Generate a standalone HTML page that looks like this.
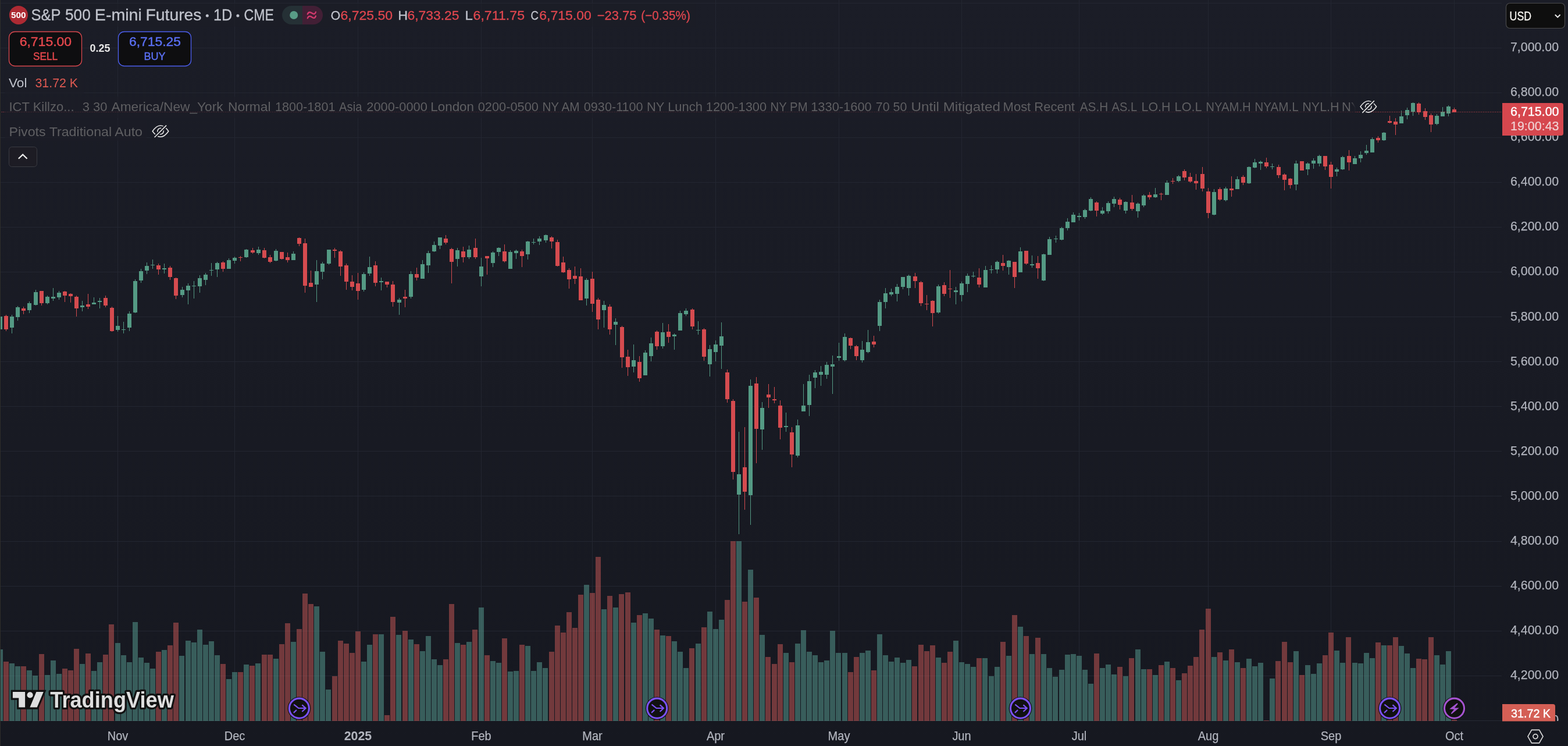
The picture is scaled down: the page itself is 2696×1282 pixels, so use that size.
<!DOCTYPE html>
<html><head><meta charset="utf-8">
<style>
html,body{margin:0;padding:0;}
body{width:2696px;height:1282px;background:#181a23;overflow:hidden;position:relative;}
#chart{position:absolute;left:0;top:0;}
</style></head><body>
<svg id="chart" width="2696" height="1282" viewBox="0 0 2696 1282" font-family='"Liberation Sans", Arial, sans-serif'>
<defs><linearGradient id="bgg" x1="0" y1="0" x2="0" y2="1"><stop offset="0" stop-color="#1b1d27"/><stop offset="1" stop-color="#161820"/></linearGradient><linearGradient id="fade" gradientUnits="userSpaceOnUse" x1="2321" y1="0" x2="2331" y2="0"><stop offset="0" stop-color="#fff"/><stop offset="1" stop-color="#000"/></linearGradient><mask id="ictm"><rect x="0" y="160" width="2331" height="40" fill="url(#fade)"/></mask><clipPath id="pax"><rect x="2583" y="0" width="113" height="1239"/></clipPath></defs>
<rect x="0" y="0" width="2696" height="1282" fill="url(#bgg)"/>
<rect x="0" y="5" width="2582" height="1" fill="#232631"/>
<rect x="0" y="82" width="2582" height="1" fill="#232631"/>
<rect x="0" y="159" width="2582" height="1" fill="#232631"/>
<rect x="0" y="236" width="2582" height="1" fill="#232631"/>
<rect x="0" y="313" width="2582" height="1" fill="#232631"/>
<rect x="0" y="390" width="2582" height="1" fill="#232631"/>
<rect x="0" y="467" width="2582" height="1" fill="#232631"/>
<rect x="0" y="544" width="2582" height="1" fill="#232631"/>
<rect x="0" y="621" width="2582" height="1" fill="#232631"/>
<rect x="0" y="698" width="2582" height="1" fill="#232631"/>
<rect x="0" y="775" width="2582" height="1" fill="#232631"/>
<rect x="0" y="852" width="2582" height="1" fill="#232631"/>
<rect x="0" y="930" width="2582" height="1" fill="#232631"/>
<rect x="0" y="1007" width="2582" height="1" fill="#232631"/>
<rect x="0" y="1084" width="2582" height="1" fill="#232631"/>
<rect x="0" y="1161" width="2582" height="1" fill="#232631"/>
<rect x="0" y="1238" width="2582" height="1" fill="#232631"/>
<rect x="202" y="0" width="1" height="1239" fill="#232631"/>
<rect x="403" y="0" width="1" height="1239" fill="#232631"/>
<rect x="615" y="0" width="1" height="1239" fill="#232631"/>
<rect x="827" y="0" width="1" height="1239" fill="#232631"/>
<rect x="1018" y="0" width="1" height="1239" fill="#232631"/>
<rect x="1230" y="0" width="1" height="1239" fill="#232631"/>
<rect x="1442" y="0" width="1" height="1239" fill="#232631"/>
<rect x="1653" y="0" width="1" height="1239" fill="#232631"/>
<rect x="1855" y="0" width="1" height="1239" fill="#232631"/>
<rect x="2077" y="0" width="1" height="1239" fill="#232631"/>
<rect x="2288" y="0" width="1" height="1239" fill="#232631"/>
<rect x="2500" y="0" width="1" height="1239" fill="#232631"/>
<rect x="0" y="1238" width="2583" height="1" fill="#272a35"/>
<rect x="-4" y="1116" width="9" height="123" fill="rgba(90,161,150,0.5)"/>
<rect x="6" y="1137" width="9" height="102" fill="rgba(206,89,88,0.5)"/>
<rect x="16" y="1140" width="9" height="99" fill="rgba(90,161,150,0.5)"/>
<rect x="26" y="1145" width="9" height="94" fill="rgba(90,161,150,0.5)"/>
<rect x="36" y="1145" width="9" height="94" fill="rgba(206,89,88,0.5)"/>
<rect x="46" y="1152" width="9" height="87" fill="rgba(90,161,150,0.5)"/>
<rect x="56" y="1161" width="9" height="78" fill="rgba(90,161,150,0.5)"/>
<rect x="67" y="1124" width="9" height="115" fill="rgba(206,89,88,0.5)"/>
<rect x="77" y="1160" width="9" height="79" fill="rgba(90,161,150,0.5)"/>
<rect x="87" y="1135" width="9" height="104" fill="rgba(90,161,150,0.5)"/>
<rect x="97" y="1158" width="9" height="81" fill="rgba(90,161,150,0.5)"/>
<rect x="107" y="1149" width="9" height="90" fill="rgba(206,89,88,0.5)"/>
<rect x="117" y="1152" width="9" height="87" fill="rgba(206,89,88,0.5)"/>
<rect x="127" y="1115" width="9" height="124" fill="rgba(206,89,88,0.5)"/>
<rect x="137" y="1141" width="9" height="98" fill="rgba(90,161,150,0.5)"/>
<rect x="147" y="1123" width="9" height="116" fill="rgba(206,89,88,0.5)"/>
<rect x="157" y="1153" width="9" height="86" fill="rgba(90,161,150,0.5)"/>
<rect x="167" y="1138" width="9" height="101" fill="rgba(90,161,150,0.5)"/>
<rect x="177" y="1125" width="9" height="114" fill="rgba(206,89,88,0.5)"/>
<rect x="187" y="1073" width="9" height="166" fill="rgba(206,89,88,0.5)"/>
<rect x="198" y="1105" width="9" height="134" fill="rgba(90,161,150,0.5)"/>
<rect x="208" y="1126" width="9" height="113" fill="rgba(90,161,150,0.5)"/>
<rect x="218" y="1138" width="9" height="101" fill="rgba(90,161,150,0.5)"/>
<rect x="228" y="1069" width="9" height="170" fill="rgba(90,161,150,0.5)"/>
<rect x="238" y="1130" width="9" height="109" fill="rgba(90,161,150,0.5)"/>
<rect x="248" y="1139" width="9" height="100" fill="rgba(90,161,150,0.5)"/>
<rect x="258" y="1149" width="9" height="90" fill="rgba(90,161,150,0.5)"/>
<rect x="268" y="1120" width="9" height="119" fill="rgba(206,89,88,0.5)"/>
<rect x="278" y="1117" width="9" height="122" fill="rgba(90,161,150,0.5)"/>
<rect x="288" y="1109" width="9" height="130" fill="rgba(206,89,88,0.5)"/>
<rect x="298" y="1070" width="9" height="169" fill="rgba(206,89,88,0.5)"/>
<rect x="308" y="1127" width="9" height="112" fill="rgba(90,161,150,0.5)"/>
<rect x="319" y="1101" width="9" height="138" fill="rgba(90,161,150,0.5)"/>
<rect x="329" y="1104" width="9" height="135" fill="rgba(90,161,150,0.5)"/>
<rect x="339" y="1082" width="9" height="157" fill="rgba(90,161,150,0.5)"/>
<rect x="349" y="1108" width="9" height="131" fill="rgba(90,161,150,0.5)"/>
<rect x="359" y="1102" width="9" height="137" fill="rgba(90,161,150,0.5)"/>
<rect x="369" y="1126" width="9" height="113" fill="rgba(90,161,150,0.5)"/>
<rect x="379" y="1141" width="9" height="98" fill="rgba(206,89,88,0.5)"/>
<rect x="389" y="1167" width="9" height="72" fill="rgba(90,161,150,0.5)"/>
<rect x="399" y="1155" width="9" height="84" fill="rgba(90,161,150,0.5)"/>
<rect x="409" y="1155" width="9" height="84" fill="rgba(206,89,88,0.5)"/>
<rect x="419" y="1142" width="9" height="97" fill="rgba(90,161,150,0.5)"/>
<rect x="429" y="1144" width="9" height="95" fill="rgba(206,89,88,0.5)"/>
<rect x="439" y="1140" width="9" height="99" fill="rgba(90,161,150,0.5)"/>
<rect x="450" y="1125" width="9" height="114" fill="rgba(206,89,88,0.5)"/>
<rect x="460" y="1125" width="9" height="114" fill="rgba(206,89,88,0.5)"/>
<rect x="470" y="1132" width="9" height="107" fill="rgba(90,161,150,0.5)"/>
<rect x="480" y="1107" width="9" height="132" fill="rgba(206,89,88,0.5)"/>
<rect x="490" y="1071" width="9" height="168" fill="rgba(206,89,88,0.5)"/>
<rect x="500" y="1103" width="9" height="136" fill="rgba(90,161,150,0.5)"/>
<rect x="510" y="1081" width="9" height="158" fill="rgba(206,89,88,0.5)"/>
<rect x="520" y="1020" width="9" height="219" fill="rgba(206,89,88,0.5)"/>
<rect x="530" y="1038" width="9" height="201" fill="rgba(206,89,88,0.5)"/>
<rect x="540" y="1042" width="9" height="197" fill="rgba(90,161,150,0.5)"/>
<rect x="550" y="1120" width="9" height="119" fill="rgba(90,161,150,0.5)"/>
<rect x="560" y="1185" width="9" height="54" fill="rgba(90,161,150,0.5)"/>
<rect x="571" y="1162" width="9" height="77" fill="rgba(206,89,88,0.5)"/>
<rect x="581" y="1101" width="9" height="138" fill="rgba(206,89,88,0.5)"/>
<rect x="591" y="1106" width="9" height="133" fill="rgba(206,89,88,0.5)"/>
<rect x="601" y="1122" width="9" height="117" fill="rgba(206,89,88,0.5)"/>
<rect x="611" y="1085" width="9" height="154" fill="rgba(206,89,88,0.5)"/>
<rect x="621" y="1137" width="9" height="102" fill="rgba(90,161,150,0.5)"/>
<rect x="631" y="1108" width="9" height="131" fill="rgba(90,161,150,0.5)"/>
<rect x="641" y="1090" width="9" height="149" fill="rgba(206,89,88,0.5)"/>
<rect x="651" y="1090" width="9" height="149" fill="rgba(90,161,150,0.5)"/>
<rect x="661" y="1229" width="9" height="10" fill="rgba(206,89,88,0.5)"/>
<rect x="671" y="1060" width="9" height="179" fill="rgba(206,89,88,0.5)"/>
<rect x="681" y="1091" width="9" height="148" fill="rgba(90,161,150,0.5)"/>
<rect x="692" y="1084" width="9" height="155" fill="rgba(206,89,88,0.5)"/>
<rect x="702" y="1099" width="9" height="140" fill="rgba(90,161,150,0.5)"/>
<rect x="712" y="1107" width="9" height="132" fill="rgba(206,89,88,0.5)"/>
<rect x="722" y="1119" width="9" height="120" fill="rgba(90,161,150,0.5)"/>
<rect x="732" y="1093" width="9" height="146" fill="rgba(90,161,150,0.5)"/>
<rect x="742" y="1133" width="9" height="106" fill="rgba(90,161,150,0.5)"/>
<rect x="752" y="1143" width="9" height="96" fill="rgba(90,161,150,0.5)"/>
<rect x="762" y="1133" width="9" height="106" fill="rgba(206,89,88,0.5)"/>
<rect x="772" y="1038" width="9" height="201" fill="rgba(206,89,88,0.5)"/>
<rect x="782" y="1105" width="9" height="134" fill="rgba(90,161,150,0.5)"/>
<rect x="792" y="1108" width="9" height="131" fill="rgba(206,89,88,0.5)"/>
<rect x="802" y="1103" width="9" height="136" fill="rgba(90,161,150,0.5)"/>
<rect x="812" y="1082" width="9" height="157" fill="rgba(206,89,88,0.5)"/>
<rect x="823" y="1044" width="9" height="195" fill="rgba(90,161,150,0.5)"/>
<rect x="833" y="1126" width="9" height="113" fill="rgba(206,89,88,0.5)"/>
<rect x="843" y="1136" width="9" height="103" fill="rgba(90,161,150,0.5)"/>
<rect x="853" y="1139" width="9" height="100" fill="rgba(90,161,150,0.5)"/>
<rect x="863" y="1097" width="9" height="142" fill="rgba(206,89,88,0.5)"/>
<rect x="873" y="1154" width="9" height="85" fill="rgba(90,161,150,0.5)"/>
<rect x="883" y="1153" width="9" height="86" fill="rgba(90,161,150,0.5)"/>
<rect x="893" y="1108" width="9" height="131" fill="rgba(206,89,88,0.5)"/>
<rect x="903" y="1110" width="9" height="129" fill="rgba(90,161,150,0.5)"/>
<rect x="913" y="1153" width="9" height="86" fill="rgba(90,161,150,0.5)"/>
<rect x="923" y="1138" width="9" height="101" fill="rgba(90,161,150,0.5)"/>
<rect x="933" y="1148" width="9" height="91" fill="rgba(90,161,150,0.5)"/>
<rect x="944" y="1120" width="9" height="119" fill="rgba(206,89,88,0.5)"/>
<rect x="954" y="1075" width="9" height="164" fill="rgba(206,89,88,0.5)"/>
<rect x="964" y="1087" width="9" height="152" fill="rgba(206,89,88,0.5)"/>
<rect x="974" y="1052" width="9" height="187" fill="rgba(206,89,88,0.5)"/>
<rect x="984" y="1079" width="9" height="160" fill="rgba(206,89,88,0.5)"/>
<rect x="994" y="1022" width="9" height="217" fill="rgba(206,89,88,0.5)"/>
<rect x="1004" y="1005" width="9" height="234" fill="rgba(90,161,150,0.5)"/>
<rect x="1014" y="1019" width="9" height="220" fill="rgba(206,89,88,0.5)"/>
<rect x="1024" y="957" width="9" height="282" fill="rgba(206,89,88,0.5)"/>
<rect x="1034" y="1047" width="9" height="192" fill="rgba(90,161,150,0.5)"/>
<rect x="1044" y="1024" width="9" height="215" fill="rgba(206,89,88,0.5)"/>
<rect x="1054" y="1044" width="9" height="195" fill="rgba(90,161,150,0.5)"/>
<rect x="1064" y="1021" width="9" height="218" fill="rgba(206,89,88,0.5)"/>
<rect x="1075" y="1018" width="9" height="221" fill="rgba(206,89,88,0.5)"/>
<rect x="1085" y="1070" width="9" height="169" fill="rgba(90,161,150,0.5)"/>
<rect x="1095" y="1057" width="9" height="182" fill="rgba(206,89,88,0.5)"/>
<rect x="1105" y="1054" width="9" height="185" fill="rgba(90,161,150,0.5)"/>
<rect x="1115" y="1063" width="9" height="176" fill="rgba(90,161,150,0.5)"/>
<rect x="1125" y="1082" width="9" height="157" fill="rgba(206,89,88,0.5)"/>
<rect x="1135" y="1092" width="9" height="147" fill="rgba(90,161,150,0.5)"/>
<rect x="1145" y="1093" width="9" height="146" fill="rgba(206,89,88,0.5)"/>
<rect x="1155" y="1102" width="9" height="137" fill="rgba(90,161,150,0.5)"/>
<rect x="1165" y="1120" width="9" height="119" fill="rgba(90,161,150,0.5)"/>
<rect x="1175" y="1148" width="9" height="91" fill="rgba(90,161,150,0.5)"/>
<rect x="1185" y="1114" width="9" height="125" fill="rgba(206,89,88,0.5)"/>
<rect x="1196" y="1106" width="9" height="133" fill="rgba(90,161,150,0.5)"/>
<rect x="1206" y="1078" width="9" height="161" fill="rgba(206,89,88,0.5)"/>
<rect x="1216" y="1051" width="9" height="188" fill="rgba(90,161,150,0.5)"/>
<rect x="1226" y="1081" width="9" height="158" fill="rgba(90,161,150,0.5)"/>
<rect x="1236" y="1065" width="9" height="174" fill="rgba(90,161,150,0.5)"/>
<rect x="1246" y="1031" width="9" height="208" fill="rgba(206,89,88,0.5)"/>
<rect x="1256" y="930" width="9" height="309" fill="rgba(206,89,88,0.5)"/>
<rect x="1266" y="930" width="9" height="309" fill="rgba(90,161,150,0.5)"/>
<rect x="1276" y="1034" width="9" height="205" fill="rgba(206,89,88,0.5)"/>
<rect x="1286" y="979" width="9" height="260" fill="rgba(90,161,150,0.5)"/>
<rect x="1296" y="1027" width="9" height="212" fill="rgba(206,89,88,0.5)"/>
<rect x="1306" y="1091" width="9" height="148" fill="rgba(90,161,150,0.5)"/>
<rect x="1316" y="1129" width="9" height="110" fill="rgba(206,89,88,0.5)"/>
<rect x="1327" y="1141" width="9" height="98" fill="rgba(206,89,88,0.5)"/>
<rect x="1337" y="1107" width="9" height="132" fill="rgba(206,89,88,0.5)"/>
<rect x="1347" y="1122" width="9" height="117" fill="rgba(90,161,150,0.5)"/>
<rect x="1357" y="1138" width="9" height="101" fill="rgba(206,89,88,0.5)"/>
<rect x="1367" y="1106" width="9" height="133" fill="rgba(90,161,150,0.5)"/>
<rect x="1377" y="1083" width="9" height="156" fill="rgba(90,161,150,0.5)"/>
<rect x="1387" y="1120" width="9" height="119" fill="rgba(90,161,150,0.5)"/>
<rect x="1397" y="1126" width="9" height="113" fill="rgba(90,161,150,0.5)"/>
<rect x="1407" y="1138" width="9" height="101" fill="rgba(90,161,150,0.5)"/>
<rect x="1417" y="1135" width="9" height="104" fill="rgba(90,161,150,0.5)"/>
<rect x="1427" y="1084" width="9" height="155" fill="rgba(90,161,150,0.5)"/>
<rect x="1437" y="1122" width="9" height="117" fill="rgba(90,161,150,0.5)"/>
<rect x="1448" y="1122" width="9" height="117" fill="rgba(90,161,150,0.5)"/>
<rect x="1458" y="1155" width="9" height="84" fill="rgba(206,89,88,0.5)"/>
<rect x="1468" y="1129" width="9" height="110" fill="rgba(206,89,88,0.5)"/>
<rect x="1478" y="1122" width="9" height="117" fill="rgba(90,161,150,0.5)"/>
<rect x="1488" y="1118" width="9" height="121" fill="rgba(90,161,150,0.5)"/>
<rect x="1498" y="1152" width="9" height="87" fill="rgba(206,89,88,0.5)"/>
<rect x="1508" y="1090" width="9" height="149" fill="rgba(90,161,150,0.5)"/>
<rect x="1518" y="1126" width="9" height="113" fill="rgba(90,161,150,0.5)"/>
<rect x="1528" y="1137" width="9" height="102" fill="rgba(90,161,150,0.5)"/>
<rect x="1538" y="1130" width="9" height="109" fill="rgba(90,161,150,0.5)"/>
<rect x="1548" y="1139" width="9" height="100" fill="rgba(90,161,150,0.5)"/>
<rect x="1558" y="1134" width="9" height="105" fill="rgba(90,161,150,0.5)"/>
<rect x="1568" y="1145" width="9" height="94" fill="rgba(206,89,88,0.5)"/>
<rect x="1579" y="1108" width="9" height="131" fill="rgba(206,89,88,0.5)"/>
<rect x="1589" y="1119" width="9" height="120" fill="rgba(206,89,88,0.5)"/>
<rect x="1599" y="1109" width="9" height="130" fill="rgba(206,89,88,0.5)"/>
<rect x="1609" y="1130" width="9" height="109" fill="rgba(90,161,150,0.5)"/>
<rect x="1619" y="1139" width="9" height="100" fill="rgba(206,89,88,0.5)"/>
<rect x="1629" y="1120" width="9" height="119" fill="rgba(206,89,88,0.5)"/>
<rect x="1639" y="1101" width="9" height="138" fill="rgba(90,161,150,0.5)"/>
<rect x="1649" y="1138" width="9" height="101" fill="rgba(90,161,150,0.5)"/>
<rect x="1659" y="1141" width="9" height="98" fill="rgba(90,161,150,0.5)"/>
<rect x="1669" y="1146" width="9" height="93" fill="rgba(90,161,150,0.5)"/>
<rect x="1679" y="1131" width="9" height="108" fill="rgba(206,89,88,0.5)"/>
<rect x="1689" y="1131" width="9" height="108" fill="rgba(90,161,150,0.5)"/>
<rect x="1700" y="1162" width="9" height="77" fill="rgba(90,161,150,0.5)"/>
<rect x="1710" y="1146" width="9" height="93" fill="rgba(90,161,150,0.5)"/>
<rect x="1720" y="1103" width="9" height="136" fill="rgba(206,89,88,0.5)"/>
<rect x="1730" y="1127" width="9" height="112" fill="rgba(90,161,150,0.5)"/>
<rect x="1740" y="1057" width="9" height="182" fill="rgba(206,89,88,0.5)"/>
<rect x="1750" y="1077" width="9" height="162" fill="rgba(90,161,150,0.5)"/>
<rect x="1760" y="1093" width="9" height="146" fill="rgba(206,89,88,0.5)"/>
<rect x="1770" y="1124" width="9" height="115" fill="rgba(90,161,150,0.5)"/>
<rect x="1780" y="1096" width="9" height="143" fill="rgba(206,89,88,0.5)"/>
<rect x="1790" y="1124" width="9" height="115" fill="rgba(90,161,150,0.5)"/>
<rect x="1800" y="1148" width="9" height="91" fill="rgba(90,161,150,0.5)"/>
<rect x="1810" y="1163" width="9" height="76" fill="rgba(90,161,150,0.5)"/>
<rect x="1821" y="1151" width="9" height="88" fill="rgba(90,161,150,0.5)"/>
<rect x="1831" y="1125" width="9" height="114" fill="rgba(90,161,150,0.5)"/>
<rect x="1841" y="1124" width="9" height="115" fill="rgba(90,161,150,0.5)"/>
<rect x="1851" y="1127" width="9" height="112" fill="rgba(90,161,150,0.5)"/>
<rect x="1861" y="1151" width="9" height="88" fill="rgba(90,161,150,0.5)"/>
<rect x="1871" y="1175" width="9" height="64" fill="rgba(90,161,150,0.5)"/>
<rect x="1881" y="1123" width="9" height="116" fill="rgba(206,89,88,0.5)"/>
<rect x="1891" y="1148" width="9" height="91" fill="rgba(90,161,150,0.5)"/>
<rect x="1901" y="1142" width="9" height="97" fill="rgba(90,161,150,0.5)"/>
<rect x="1911" y="1159" width="9" height="80" fill="rgba(90,161,150,0.5)"/>
<rect x="1921" y="1146" width="9" height="93" fill="rgba(206,89,88,0.5)"/>
<rect x="1931" y="1162" width="9" height="77" fill="rgba(90,161,150,0.5)"/>
<rect x="1941" y="1131" width="9" height="108" fill="rgba(206,89,88,0.5)"/>
<rect x="1952" y="1116" width="9" height="123" fill="rgba(90,161,150,0.5)"/>
<rect x="1962" y="1150" width="9" height="89" fill="rgba(90,161,150,0.5)"/>
<rect x="1972" y="1150" width="9" height="89" fill="rgba(206,89,88,0.5)"/>
<rect x="1982" y="1160" width="9" height="79" fill="rgba(90,161,150,0.5)"/>
<rect x="1992" y="1143" width="9" height="96" fill="rgba(206,89,88,0.5)"/>
<rect x="2002" y="1137" width="9" height="102" fill="rgba(90,161,150,0.5)"/>
<rect x="2012" y="1148" width="9" height="91" fill="rgba(206,89,88,0.5)"/>
<rect x="2022" y="1169" width="9" height="70" fill="rgba(90,161,150,0.5)"/>
<rect x="2032" y="1157" width="9" height="82" fill="rgba(206,89,88,0.5)"/>
<rect x="2042" y="1144" width="9" height="95" fill="rgba(206,89,88,0.5)"/>
<rect x="2052" y="1129" width="9" height="110" fill="rgba(206,89,88,0.5)"/>
<rect x="2062" y="1082" width="9" height="157" fill="rgba(206,89,88,0.5)"/>
<rect x="2073" y="1046" width="9" height="193" fill="rgba(206,89,88,0.5)"/>
<rect x="2083" y="1129" width="9" height="110" fill="rgba(90,161,150,0.5)"/>
<rect x="2093" y="1121" width="9" height="118" fill="rgba(206,89,88,0.5)"/>
<rect x="2103" y="1135" width="9" height="104" fill="rgba(90,161,150,0.5)"/>
<rect x="2113" y="1116" width="9" height="123" fill="rgba(206,89,88,0.5)"/>
<rect x="2123" y="1138" width="9" height="101" fill="rgba(90,161,150,0.5)"/>
<rect x="2133" y="1148" width="9" height="91" fill="rgba(206,89,88,0.5)"/>
<rect x="2143" y="1132" width="9" height="107" fill="rgba(90,161,150,0.5)"/>
<rect x="2153" y="1145" width="9" height="94" fill="rgba(90,161,150,0.5)"/>
<rect x="2163" y="1139" width="9" height="100" fill="rgba(90,161,150,0.5)"/>
<rect x="2173" y="1238" width="9" height="1" fill="rgba(206,89,88,0.5)"/>
<rect x="2183" y="1166" width="9" height="73" fill="rgba(90,161,150,0.5)"/>
<rect x="2193" y="1136" width="9" height="103" fill="rgba(206,89,88,0.5)"/>
<rect x="2204" y="1103" width="9" height="136" fill="rgba(206,89,88,0.5)"/>
<rect x="2214" y="1138" width="9" height="101" fill="rgba(206,89,88,0.5)"/>
<rect x="2224" y="1119" width="9" height="120" fill="rgba(90,161,150,0.5)"/>
<rect x="2234" y="1160" width="9" height="79" fill="rgba(206,89,88,0.5)"/>
<rect x="2244" y="1143" width="9" height="96" fill="rgba(90,161,150,0.5)"/>
<rect x="2254" y="1158" width="9" height="81" fill="rgba(90,161,150,0.5)"/>
<rect x="2264" y="1140" width="9" height="99" fill="rgba(90,161,150,0.5)"/>
<rect x="2274" y="1126" width="9" height="113" fill="rgba(206,89,88,0.5)"/>
<rect x="2284" y="1087" width="9" height="152" fill="rgba(206,89,88,0.5)"/>
<rect x="2294" y="1118" width="9" height="121" fill="rgba(90,161,150,0.5)"/>
<rect x="2304" y="1139" width="9" height="100" fill="rgba(90,161,150,0.5)"/>
<rect x="2314" y="1095" width="9" height="144" fill="rgba(206,89,88,0.5)"/>
<rect x="2325" y="1139" width="9" height="100" fill="rgba(90,161,150,0.5)"/>
<rect x="2335" y="1140" width="9" height="99" fill="rgba(90,161,150,0.5)"/>
<rect x="2345" y="1122" width="9" height="117" fill="rgba(90,161,150,0.5)"/>
<rect x="2355" y="1131" width="9" height="108" fill="rgba(90,161,150,0.5)"/>
<rect x="2365" y="1104" width="9" height="135" fill="rgba(206,89,88,0.5)"/>
<rect x="2375" y="1109" width="9" height="130" fill="rgba(90,161,150,0.5)"/>
<rect x="2385" y="1109" width="9" height="130" fill="rgba(206,89,88,0.5)"/>
<rect x="2395" y="1095" width="9" height="144" fill="rgba(206,89,88,0.5)"/>
<rect x="2405" y="1110" width="9" height="129" fill="rgba(90,161,150,0.5)"/>
<rect x="2415" y="1123" width="9" height="116" fill="rgba(90,161,150,0.5)"/>
<rect x="2425" y="1148" width="9" height="91" fill="rgba(90,161,150,0.5)"/>
<rect x="2435" y="1132" width="9" height="107" fill="rgba(206,89,88,0.5)"/>
<rect x="2445" y="1133" width="9" height="106" fill="rgba(206,89,88,0.5)"/>
<rect x="2456" y="1095" width="9" height="144" fill="rgba(206,89,88,0.5)"/>
<rect x="2466" y="1126" width="9" height="113" fill="rgba(90,161,150,0.5)"/>
<rect x="2476" y="1142" width="9" height="97" fill="rgba(90,161,150,0.5)"/>
<rect x="2486" y="1119" width="9" height="120" fill="rgba(90,161,150,0.5)"/>
<rect x="2496" y="1237" width="9" height="2" fill="rgba(206,89,88,0.5)"/>
<rect x="0" y="542" width="1" height="25" fill="#549a84"/>
<rect x="-3" y="544" width="7" height="22" fill="#549a84"/>
<rect x="10" y="541" width="1" height="28" fill="#d54b4f"/>
<rect x="7" y="543" width="7" height="23" fill="#d54b4f"/>
<rect x="20" y="541" width="1" height="32" fill="#549a84"/>
<rect x="17" y="544" width="7" height="19" fill="#549a84"/>
<rect x="30" y="526" width="1" height="25" fill="#549a84"/>
<rect x="27" y="528" width="7" height="17" fill="#549a84"/>
<rect x="40" y="527" width="1" height="13" fill="#d54b4f"/>
<rect x="37" y="530" width="7" height="4" fill="#d54b4f"/>
<rect x="50" y="518" width="1" height="20" fill="#549a84"/>
<rect x="47" y="521" width="7" height="12" fill="#549a84"/>
<rect x="61" y="498" width="1" height="27" fill="#549a84"/>
<rect x="58" y="502" width="7" height="22" fill="#549a84"/>
<rect x="71" y="500" width="1" height="25" fill="#d54b4f"/>
<rect x="68" y="500" width="7" height="21" fill="#d54b4f"/>
<rect x="81" y="508" width="1" height="15" fill="#549a84"/>
<rect x="78" y="510" width="7" height="11" fill="#549a84"/>
<rect x="91" y="495" width="1" height="22" fill="#549a84"/>
<rect x="88" y="510" width="7" height="3" fill="#549a84"/>
<rect x="101" y="500" width="1" height="15" fill="#549a84"/>
<rect x="98" y="503" width="7" height="8" fill="#549a84"/>
<rect x="111" y="500" width="1" height="19" fill="#d54b4f"/>
<rect x="108" y="501" width="7" height="7" fill="#d54b4f"/>
<rect x="121" y="504" width="1" height="16" fill="#d54b4f"/>
<rect x="118" y="505" width="7" height="4" fill="#d54b4f"/>
<rect x="131" y="508" width="1" height="36" fill="#d54b4f"/>
<rect x="128" y="510" width="7" height="20" fill="#d54b4f"/>
<rect x="141" y="517" width="1" height="18" fill="#549a84"/>
<rect x="138" y="525" width="7" height="3" fill="#549a84"/>
<rect x="151" y="505" width="1" height="26" fill="#d54b4f"/>
<rect x="148" y="523" width="7" height="4" fill="#d54b4f"/>
<rect x="161" y="511" width="1" height="12" fill="#549a84"/>
<rect x="158" y="520" width="7" height="3" fill="#549a84"/>
<rect x="171" y="512" width="1" height="18" fill="#549a84"/>
<rect x="168" y="517" width="7" height="2" fill="#549a84"/>
<rect x="181" y="508" width="1" height="20" fill="#d54b4f"/>
<rect x="178" y="512" width="7" height="13" fill="#d54b4f"/>
<rect x="192" y="527" width="1" height="43" fill="#d54b4f"/>
<rect x="189" y="529" width="7" height="40" fill="#d54b4f"/>
<rect x="202" y="543" width="1" height="27" fill="#549a84"/>
<rect x="199" y="560" width="7" height="7" fill="#549a84"/>
<rect x="212" y="553" width="1" height="20" fill="#549a84"/>
<rect x="209" y="566" width="7" height="1" fill="#549a84"/>
<rect x="222" y="535" width="1" height="34" fill="#549a84"/>
<rect x="219" y="539" width="7" height="24" fill="#549a84"/>
<rect x="232" y="480" width="1" height="58" fill="#549a84"/>
<rect x="229" y="483" width="7" height="54" fill="#549a84"/>
<rect x="242" y="462" width="1" height="24" fill="#549a84"/>
<rect x="239" y="466" width="7" height="16" fill="#549a84"/>
<rect x="252" y="451" width="1" height="20" fill="#549a84"/>
<rect x="249" y="457" width="7" height="8" fill="#549a84"/>
<rect x="262" y="446" width="1" height="16" fill="#549a84"/>
<rect x="259" y="455" width="7" height="1" fill="#549a84"/>
<rect x="272" y="453" width="1" height="19" fill="#d54b4f"/>
<rect x="269" y="456" width="7" height="7" fill="#d54b4f"/>
<rect x="282" y="453" width="1" height="17" fill="#549a84"/>
<rect x="279" y="461" width="7" height="2" fill="#549a84"/>
<rect x="292" y="457" width="1" height="24" fill="#d54b4f"/>
<rect x="289" y="460" width="7" height="16" fill="#d54b4f"/>
<rect x="302" y="477" width="1" height="37" fill="#d54b4f"/>
<rect x="299" y="478" width="7" height="30" fill="#d54b4f"/>
<rect x="313" y="493" width="1" height="18" fill="#549a84"/>
<rect x="310" y="498" width="7" height="9" fill="#549a84"/>
<rect x="323" y="487" width="1" height="36" fill="#549a84"/>
<rect x="320" y="491" width="7" height="8" fill="#549a84"/>
<rect x="333" y="483" width="1" height="30" fill="#549a84"/>
<rect x="330" y="491" width="7" height="1" fill="#549a84"/>
<rect x="343" y="473" width="1" height="30" fill="#549a84"/>
<rect x="340" y="478" width="7" height="14" fill="#549a84"/>
<rect x="353" y="469" width="1" height="21" fill="#549a84"/>
<rect x="350" y="472" width="7" height="9" fill="#549a84"/>
<rect x="363" y="452" width="1" height="22" fill="#549a84"/>
<rect x="360" y="464" width="7" height="1" fill="#549a84"/>
<rect x="373" y="450" width="1" height="26" fill="#549a84"/>
<rect x="370" y="452" width="7" height="11" fill="#549a84"/>
<rect x="383" y="449" width="1" height="18" fill="#d54b4f"/>
<rect x="380" y="451" width="7" height="11" fill="#d54b4f"/>
<rect x="393" y="444" width="1" height="18" fill="#549a84"/>
<rect x="390" y="447" width="7" height="15" fill="#549a84"/>
<rect x="403" y="441" width="1" height="12" fill="#549a84"/>
<rect x="400" y="443" width="7" height="5" fill="#549a84"/>
<rect x="413" y="440" width="1" height="9" fill="#d54b4f"/>
<rect x="410" y="442" width="7" height="1" fill="#d54b4f"/>
<rect x="423" y="428" width="1" height="15" fill="#549a84"/>
<rect x="420" y="429" width="7" height="13" fill="#549a84"/>
<rect x="434" y="426" width="1" height="10" fill="#d54b4f"/>
<rect x="431" y="430" width="7" height="4" fill="#d54b4f"/>
<rect x="444" y="424" width="1" height="14" fill="#549a84"/>
<rect x="441" y="429" width="7" height="6" fill="#549a84"/>
<rect x="454" y="426" width="1" height="18" fill="#d54b4f"/>
<rect x="451" y="430" width="7" height="13" fill="#d54b4f"/>
<rect x="464" y="438" width="1" height="14" fill="#d54b4f"/>
<rect x="461" y="442" width="7" height="8" fill="#d54b4f"/>
<rect x="474" y="428" width="1" height="21" fill="#549a84"/>
<rect x="471" y="431" width="7" height="17" fill="#549a84"/>
<rect x="484" y="433" width="1" height="13" fill="#d54b4f"/>
<rect x="481" y="433" width="7" height="12" fill="#d54b4f"/>
<rect x="494" y="434" width="1" height="17" fill="#d54b4f"/>
<rect x="491" y="442" width="7" height="5" fill="#d54b4f"/>
<rect x="504" y="432" width="1" height="15" fill="#549a84"/>
<rect x="501" y="436" width="7" height="11" fill="#549a84"/>
<rect x="514" y="408" width="1" height="15" fill="#d54b4f"/>
<rect x="511" y="409" width="7" height="10" fill="#d54b4f"/>
<rect x="524" y="410" width="1" height="93" fill="#d54b4f"/>
<rect x="521" y="418" width="7" height="73" fill="#d54b4f"/>
<rect x="534" y="465" width="1" height="28" fill="#d54b4f"/>
<rect x="531" y="486" width="7" height="7" fill="#d54b4f"/>
<rect x="544" y="447" width="1" height="72" fill="#549a84"/>
<rect x="541" y="466" width="7" height="23" fill="#549a84"/>
<rect x="554" y="450" width="1" height="30" fill="#549a84"/>
<rect x="551" y="453" width="7" height="14" fill="#549a84"/>
<rect x="565" y="429" width="1" height="26" fill="#549a84"/>
<rect x="562" y="429" width="7" height="24" fill="#549a84"/>
<rect x="575" y="426" width="1" height="17" fill="#d54b4f"/>
<rect x="572" y="429" width="7" height="2" fill="#d54b4f"/>
<rect x="585" y="430" width="1" height="44" fill="#d54b4f"/>
<rect x="582" y="432" width="7" height="26" fill="#d54b4f"/>
<rect x="595" y="453" width="1" height="45" fill="#d54b4f"/>
<rect x="592" y="456" width="7" height="28" fill="#d54b4f"/>
<rect x="605" y="473" width="1" height="26" fill="#d54b4f"/>
<rect x="602" y="484" width="7" height="9" fill="#d54b4f"/>
<rect x="615" y="469" width="1" height="46" fill="#d54b4f"/>
<rect x="612" y="487" width="7" height="13" fill="#d54b4f"/>
<rect x="625" y="468" width="1" height="33" fill="#549a84"/>
<rect x="622" y="471" width="7" height="27" fill="#549a84"/>
<rect x="635" y="441" width="1" height="33" fill="#549a84"/>
<rect x="632" y="459" width="7" height="11" fill="#549a84"/>
<rect x="645" y="449" width="1" height="43" fill="#d54b4f"/>
<rect x="642" y="456" width="7" height="30" fill="#d54b4f"/>
<rect x="655" y="477" width="1" height="22" fill="#549a84"/>
<rect x="652" y="483" width="7" height="2" fill="#549a84"/>
<rect x="665" y="484" width="1" height="10" fill="#d54b4f"/>
<rect x="662" y="484" width="7" height="5" fill="#d54b4f"/>
<rect x="675" y="483" width="1" height="44" fill="#d54b4f"/>
<rect x="672" y="489" width="7" height="30" fill="#d54b4f"/>
<rect x="686" y="512" width="1" height="29" fill="#549a84"/>
<rect x="683" y="515" width="7" height="5" fill="#549a84"/>
<rect x="696" y="498" width="1" height="30" fill="#d54b4f"/>
<rect x="693" y="510" width="7" height="3" fill="#d54b4f"/>
<rect x="706" y="466" width="1" height="47" fill="#549a84"/>
<rect x="703" y="471" width="7" height="39" fill="#549a84"/>
<rect x="716" y="460" width="1" height="22" fill="#d54b4f"/>
<rect x="713" y="471" width="7" height="6" fill="#d54b4f"/>
<rect x="726" y="447" width="1" height="32" fill="#549a84"/>
<rect x="723" y="454" width="7" height="25" fill="#549a84"/>
<rect x="736" y="431" width="1" height="38" fill="#549a84"/>
<rect x="733" y="435" width="7" height="21" fill="#549a84"/>
<rect x="746" y="415" width="1" height="18" fill="#549a84"/>
<rect x="743" y="421" width="7" height="11" fill="#549a84"/>
<rect x="756" y="408" width="1" height="20" fill="#549a84"/>
<rect x="753" y="408" width="7" height="14" fill="#549a84"/>
<rect x="766" y="404" width="1" height="16" fill="#d54b4f"/>
<rect x="763" y="410" width="7" height="7" fill="#d54b4f"/>
<rect x="776" y="426" width="1" height="61" fill="#d54b4f"/>
<rect x="773" y="428" width="7" height="22" fill="#d54b4f"/>
<rect x="786" y="426" width="1" height="32" fill="#549a84"/>
<rect x="783" y="430" width="7" height="15" fill="#549a84"/>
<rect x="796" y="424" width="1" height="27" fill="#d54b4f"/>
<rect x="793" y="432" width="7" height="10" fill="#d54b4f"/>
<rect x="806" y="422" width="1" height="23" fill="#549a84"/>
<rect x="803" y="429" width="7" height="13" fill="#549a84"/>
<rect x="817" y="410" width="1" height="35" fill="#d54b4f"/>
<rect x="814" y="426" width="7" height="16" fill="#d54b4f"/>
<rect x="827" y="443" width="1" height="49" fill="#549a84"/>
<rect x="824" y="458" width="7" height="17" fill="#549a84"/>
<rect x="837" y="440" width="1" height="32" fill="#d54b4f"/>
<rect x="834" y="440" width="7" height="4" fill="#d54b4f"/>
<rect x="847" y="432" width="1" height="27" fill="#549a84"/>
<rect x="844" y="434" width="7" height="18" fill="#549a84"/>
<rect x="857" y="425" width="1" height="15" fill="#549a84"/>
<rect x="854" y="426" width="7" height="7" fill="#549a84"/>
<rect x="867" y="420" width="1" height="31" fill="#d54b4f"/>
<rect x="864" y="432" width="7" height="17" fill="#d54b4f"/>
<rect x="877" y="430" width="1" height="32" fill="#549a84"/>
<rect x="874" y="433" width="7" height="29" fill="#549a84"/>
<rect x="887" y="429" width="1" height="16" fill="#549a84"/>
<rect x="884" y="431" width="7" height="4" fill="#549a84"/>
<rect x="897" y="429" width="1" height="30" fill="#d54b4f"/>
<rect x="894" y="432" width="7" height="8" fill="#d54b4f"/>
<rect x="907" y="414" width="1" height="32" fill="#549a84"/>
<rect x="904" y="415" width="7" height="22" fill="#549a84"/>
<rect x="917" y="410" width="1" height="10" fill="#549a84"/>
<rect x="914" y="416" width="7" height="1" fill="#549a84"/>
<rect x="927" y="406" width="1" height="15" fill="#549a84"/>
<rect x="924" y="410" width="7" height="5" fill="#549a84"/>
<rect x="938" y="403" width="1" height="14" fill="#549a84"/>
<rect x="935" y="404" width="7" height="9" fill="#549a84"/>
<rect x="948" y="406" width="1" height="21" fill="#d54b4f"/>
<rect x="945" y="408" width="7" height="7" fill="#d54b4f"/>
<rect x="958" y="412" width="1" height="46" fill="#d54b4f"/>
<rect x="955" y="416" width="7" height="41" fill="#d54b4f"/>
<rect x="968" y="441" width="1" height="28" fill="#d54b4f"/>
<rect x="965" y="451" width="7" height="17" fill="#d54b4f"/>
<rect x="978" y="461" width="1" height="35" fill="#d54b4f"/>
<rect x="975" y="464" width="7" height="16" fill="#d54b4f"/>
<rect x="988" y="458" width="1" height="30" fill="#d54b4f"/>
<rect x="985" y="474" width="7" height="5" fill="#d54b4f"/>
<rect x="998" y="461" width="1" height="55" fill="#d54b4f"/>
<rect x="995" y="475" width="7" height="41" fill="#d54b4f"/>
<rect x="1008" y="478" width="1" height="47" fill="#549a84"/>
<rect x="1005" y="481" width="7" height="32" fill="#549a84"/>
<rect x="1018" y="467" width="1" height="69" fill="#d54b4f"/>
<rect x="1015" y="479" width="7" height="43" fill="#d54b4f"/>
<rect x="1028" y="512" width="1" height="54" fill="#d54b4f"/>
<rect x="1025" y="515" width="7" height="34" fill="#d54b4f"/>
<rect x="1038" y="517" width="1" height="46" fill="#549a84"/>
<rect x="1035" y="524" width="7" height="9" fill="#549a84"/>
<rect x="1048" y="523" width="1" height="52" fill="#d54b4f"/>
<rect x="1045" y="527" width="7" height="39" fill="#d54b4f"/>
<rect x="1058" y="547" width="1" height="46" fill="#549a84"/>
<rect x="1055" y="553" width="7" height="5" fill="#549a84"/>
<rect x="1069" y="560" width="1" height="72" fill="#d54b4f"/>
<rect x="1066" y="562" width="7" height="52" fill="#d54b4f"/>
<rect x="1079" y="601" width="1" height="45" fill="#d54b4f"/>
<rect x="1076" y="613" width="7" height="18" fill="#d54b4f"/>
<rect x="1089" y="592" width="1" height="48" fill="#549a84"/>
<rect x="1086" y="619" width="7" height="11" fill="#549a84"/>
<rect x="1099" y="612" width="1" height="44" fill="#d54b4f"/>
<rect x="1096" y="622" width="7" height="28" fill="#d54b4f"/>
<rect x="1109" y="602" width="1" height="43" fill="#549a84"/>
<rect x="1106" y="606" width="7" height="39" fill="#549a84"/>
<rect x="1119" y="580" width="1" height="41" fill="#549a84"/>
<rect x="1116" y="590" width="7" height="22" fill="#549a84"/>
<rect x="1129" y="568" width="1" height="33" fill="#d54b4f"/>
<rect x="1126" y="570" width="7" height="25" fill="#d54b4f"/>
<rect x="1139" y="555" width="1" height="44" fill="#549a84"/>
<rect x="1136" y="571" width="7" height="24" fill="#549a84"/>
<rect x="1149" y="557" width="1" height="32" fill="#d54b4f"/>
<rect x="1146" y="570" width="7" height="9" fill="#d54b4f"/>
<rect x="1159" y="573" width="1" height="28" fill="#549a84"/>
<rect x="1156" y="575" width="7" height="3" fill="#549a84"/>
<rect x="1169" y="534" width="1" height="34" fill="#549a84"/>
<rect x="1166" y="538" width="7" height="30" fill="#549a84"/>
<rect x="1179" y="530" width="1" height="13" fill="#549a84"/>
<rect x="1176" y="534" width="7" height="6" fill="#549a84"/>
<rect x="1190" y="530" width="1" height="36" fill="#d54b4f"/>
<rect x="1187" y="532" width="7" height="29" fill="#d54b4f"/>
<rect x="1200" y="552" width="1" height="23" fill="#549a84"/>
<rect x="1197" y="567" width="7" height="1" fill="#549a84"/>
<rect x="1210" y="564" width="1" height="56" fill="#d54b4f"/>
<rect x="1207" y="566" width="7" height="47" fill="#d54b4f"/>
<rect x="1220" y="593" width="1" height="54" fill="#549a84"/>
<rect x="1217" y="600" width="7" height="26" fill="#549a84"/>
<rect x="1230" y="585" width="1" height="36" fill="#549a84"/>
<rect x="1227" y="592" width="7" height="13" fill="#549a84"/>
<rect x="1240" y="554" width="1" height="80" fill="#549a84"/>
<rect x="1237" y="578" width="7" height="16" fill="#549a84"/>
<rect x="1250" y="635" width="1" height="57" fill="#d54b4f"/>
<rect x="1247" y="640" width="7" height="46" fill="#d54b4f"/>
<rect x="1260" y="686" width="1" height="138" fill="#d54b4f"/>
<rect x="1257" y="689" width="7" height="122" fill="#d54b4f"/>
<rect x="1270" y="742" width="1" height="176" fill="#549a84"/>
<rect x="1267" y="815" width="7" height="35" fill="#549a84"/>
<rect x="1280" y="734" width="1" height="142" fill="#d54b4f"/>
<rect x="1277" y="803" width="7" height="42" fill="#d54b4f"/>
<rect x="1290" y="652" width="1" height="250" fill="#549a84"/>
<rect x="1287" y="663" width="7" height="188" fill="#549a84"/>
<rect x="1300" y="648" width="1" height="148" fill="#d54b4f"/>
<rect x="1297" y="659" width="7" height="78" fill="#d54b4f"/>
<rect x="1310" y="691" width="1" height="82" fill="#549a84"/>
<rect x="1307" y="701" width="7" height="37" fill="#549a84"/>
<rect x="1321" y="660" width="1" height="41" fill="#d54b4f"/>
<rect x="1318" y="678" width="7" height="5" fill="#d54b4f"/>
<rect x="1331" y="665" width="1" height="28" fill="#d54b4f"/>
<rect x="1328" y="686" width="7" height="2" fill="#d54b4f"/>
<rect x="1341" y="688" width="1" height="67" fill="#d54b4f"/>
<rect x="1338" y="697" width="7" height="38" fill="#d54b4f"/>
<rect x="1351" y="709" width="1" height="33" fill="#549a84"/>
<rect x="1348" y="732" width="7" height="2" fill="#549a84"/>
<rect x="1361" y="734" width="1" height="69" fill="#d54b4f"/>
<rect x="1358" y="743" width="7" height="38" fill="#d54b4f"/>
<rect x="1371" y="721" width="1" height="65" fill="#549a84"/>
<rect x="1368" y="731" width="7" height="52" fill="#549a84"/>
<rect x="1381" y="660" width="1" height="47" fill="#549a84"/>
<rect x="1378" y="697" width="7" height="10" fill="#549a84"/>
<rect x="1391" y="644" width="1" height="71" fill="#549a84"/>
<rect x="1388" y="655" width="7" height="41" fill="#549a84"/>
<rect x="1401" y="636" width="1" height="31" fill="#549a84"/>
<rect x="1398" y="640" width="7" height="9" fill="#549a84"/>
<rect x="1411" y="629" width="1" height="34" fill="#549a84"/>
<rect x="1408" y="639" width="7" height="5" fill="#549a84"/>
<rect x="1421" y="622" width="1" height="29" fill="#549a84"/>
<rect x="1418" y="627" width="7" height="17" fill="#549a84"/>
<rect x="1431" y="611" width="1" height="66" fill="#549a84"/>
<rect x="1428" y="626" width="7" height="4" fill="#549a84"/>
<rect x="1442" y="589" width="1" height="31" fill="#549a84"/>
<rect x="1439" y="612" width="7" height="3" fill="#549a84"/>
<rect x="1452" y="573" width="1" height="48" fill="#549a84"/>
<rect x="1449" y="579" width="7" height="40" fill="#549a84"/>
<rect x="1462" y="580" width="1" height="20" fill="#d54b4f"/>
<rect x="1459" y="581" width="7" height="13" fill="#d54b4f"/>
<rect x="1472" y="593" width="1" height="26" fill="#d54b4f"/>
<rect x="1469" y="595" width="7" height="17" fill="#d54b4f"/>
<rect x="1482" y="586" width="1" height="37" fill="#549a84"/>
<rect x="1479" y="601" width="7" height="18" fill="#549a84"/>
<rect x="1492" y="567" width="1" height="40" fill="#549a84"/>
<rect x="1489" y="588" width="7" height="17" fill="#549a84"/>
<rect x="1502" y="577" width="1" height="20" fill="#d54b4f"/>
<rect x="1499" y="587" width="7" height="5" fill="#d54b4f"/>
<rect x="1512" y="515" width="1" height="54" fill="#549a84"/>
<rect x="1509" y="519" width="7" height="41" fill="#549a84"/>
<rect x="1522" y="495" width="1" height="35" fill="#549a84"/>
<rect x="1519" y="504" width="7" height="15" fill="#549a84"/>
<rect x="1532" y="496" width="1" height="13" fill="#549a84"/>
<rect x="1529" y="502" width="7" height="4" fill="#549a84"/>
<rect x="1542" y="488" width="1" height="30" fill="#549a84"/>
<rect x="1539" y="493" width="7" height="12" fill="#549a84"/>
<rect x="1552" y="476" width="1" height="21" fill="#549a84"/>
<rect x="1549" y="476" width="7" height="17" fill="#549a84"/>
<rect x="1562" y="472" width="1" height="36" fill="#549a84"/>
<rect x="1559" y="474" width="7" height="21" fill="#549a84"/>
<rect x="1573" y="469" width="1" height="26" fill="#d54b4f"/>
<rect x="1570" y="475" width="7" height="8" fill="#d54b4f"/>
<rect x="1583" y="483" width="1" height="43" fill="#d54b4f"/>
<rect x="1580" y="485" width="7" height="36" fill="#d54b4f"/>
<rect x="1593" y="507" width="1" height="26" fill="#d54b4f"/>
<rect x="1590" y="522" width="7" height="1" fill="#d54b4f"/>
<rect x="1603" y="516" width="1" height="45" fill="#d54b4f"/>
<rect x="1600" y="517" width="7" height="21" fill="#d54b4f"/>
<rect x="1613" y="489" width="1" height="50" fill="#549a84"/>
<rect x="1610" y="492" width="7" height="45" fill="#549a84"/>
<rect x="1623" y="485" width="1" height="24" fill="#d54b4f"/>
<rect x="1620" y="490" width="7" height="15" fill="#d54b4f"/>
<rect x="1633" y="464" width="1" height="48" fill="#d54b4f"/>
<rect x="1630" y="496" width="7" height="1" fill="#d54b4f"/>
<rect x="1643" y="493" width="1" height="30" fill="#549a84"/>
<rect x="1640" y="499" width="7" height="3" fill="#549a84"/>
<rect x="1653" y="484" width="1" height="34" fill="#549a84"/>
<rect x="1650" y="487" width="7" height="20" fill="#549a84"/>
<rect x="1663" y="470" width="1" height="32" fill="#549a84"/>
<rect x="1660" y="474" width="7" height="14" fill="#549a84"/>
<rect x="1673" y="467" width="1" height="10" fill="#549a84"/>
<rect x="1670" y="474" width="7" height="1" fill="#549a84"/>
<rect x="1683" y="461" width="1" height="33" fill="#d54b4f"/>
<rect x="1680" y="477" width="7" height="12" fill="#d54b4f"/>
<rect x="1694" y="457" width="1" height="37" fill="#549a84"/>
<rect x="1691" y="464" width="7" height="30" fill="#549a84"/>
<rect x="1704" y="456" width="1" height="14" fill="#549a84"/>
<rect x="1701" y="463" width="7" height="1" fill="#549a84"/>
<rect x="1714" y="448" width="1" height="22" fill="#549a84"/>
<rect x="1711" y="450" width="7" height="13" fill="#549a84"/>
<rect x="1724" y="438" width="1" height="27" fill="#d54b4f"/>
<rect x="1721" y="452" width="7" height="5" fill="#d54b4f"/>
<rect x="1734" y="447" width="1" height="25" fill="#549a84"/>
<rect x="1731" y="448" width="7" height="11" fill="#549a84"/>
<rect x="1744" y="450" width="1" height="45" fill="#d54b4f"/>
<rect x="1741" y="450" width="7" height="26" fill="#d54b4f"/>
<rect x="1754" y="425" width="1" height="43" fill="#549a84"/>
<rect x="1751" y="432" width="7" height="36" fill="#549a84"/>
<rect x="1764" y="431" width="1" height="24" fill="#d54b4f"/>
<rect x="1761" y="431" width="7" height="22" fill="#d54b4f"/>
<rect x="1774" y="439" width="1" height="21" fill="#549a84"/>
<rect x="1771" y="454" width="7" height="2" fill="#549a84"/>
<rect x="1784" y="440" width="1" height="39" fill="#d54b4f"/>
<rect x="1781" y="452" width="7" height="9" fill="#d54b4f"/>
<rect x="1794" y="436" width="1" height="47" fill="#549a84"/>
<rect x="1791" y="437" width="7" height="45" fill="#549a84"/>
<rect x="1804" y="407" width="1" height="31" fill="#549a84"/>
<rect x="1801" y="411" width="7" height="27" fill="#549a84"/>
<rect x="1815" y="405" width="1" height="12" fill="#549a84"/>
<rect x="1812" y="410" width="7" height="1" fill="#549a84"/>
<rect x="1825" y="390" width="1" height="23" fill="#549a84"/>
<rect x="1822" y="392" width="7" height="20" fill="#549a84"/>
<rect x="1835" y="375" width="1" height="21" fill="#549a84"/>
<rect x="1832" y="381" width="7" height="11" fill="#549a84"/>
<rect x="1845" y="365" width="1" height="17" fill="#549a84"/>
<rect x="1842" y="369" width="7" height="13" fill="#549a84"/>
<rect x="1855" y="366" width="1" height="13" fill="#549a84"/>
<rect x="1852" y="371" width="7" height="2" fill="#549a84"/>
<rect x="1865" y="359" width="1" height="17" fill="#549a84"/>
<rect x="1862" y="361" width="7" height="12" fill="#549a84"/>
<rect x="1875" y="339" width="1" height="24" fill="#549a84"/>
<rect x="1872" y="342" width="7" height="20" fill="#549a84"/>
<rect x="1885" y="346" width="1" height="26" fill="#d54b4f"/>
<rect x="1882" y="348" width="7" height="14" fill="#d54b4f"/>
<rect x="1895" y="356" width="1" height="13" fill="#549a84"/>
<rect x="1892" y="362" width="7" height="5" fill="#549a84"/>
<rect x="1905" y="346" width="1" height="21" fill="#549a84"/>
<rect x="1902" y="349" width="7" height="14" fill="#549a84"/>
<rect x="1915" y="338" width="1" height="18" fill="#549a84"/>
<rect x="1912" y="342" width="7" height="8" fill="#549a84"/>
<rect x="1925" y="340" width="1" height="20" fill="#d54b4f"/>
<rect x="1922" y="343" width="7" height="9" fill="#d54b4f"/>
<rect x="1935" y="346" width="1" height="21" fill="#549a84"/>
<rect x="1932" y="347" width="7" height="15" fill="#549a84"/>
<rect x="1946" y="335" width="1" height="27" fill="#d54b4f"/>
<rect x="1943" y="348" width="7" height="11" fill="#d54b4f"/>
<rect x="1956" y="348" width="1" height="26" fill="#549a84"/>
<rect x="1953" y="350" width="7" height="13" fill="#549a84"/>
<rect x="1966" y="334" width="1" height="22" fill="#549a84"/>
<rect x="1963" y="336" width="7" height="17" fill="#549a84"/>
<rect x="1976" y="330" width="1" height="13" fill="#d54b4f"/>
<rect x="1973" y="335" width="7" height="4" fill="#d54b4f"/>
<rect x="1986" y="323" width="1" height="17" fill="#549a84"/>
<rect x="1983" y="334" width="7" height="5" fill="#549a84"/>
<rect x="1996" y="331" width="1" height="13" fill="#d54b4f"/>
<rect x="1993" y="333" width="7" height="1" fill="#d54b4f"/>
<rect x="2006" y="310" width="1" height="25" fill="#549a84"/>
<rect x="2003" y="314" width="7" height="21" fill="#549a84"/>
<rect x="2016" y="306" width="1" height="10" fill="#d54b4f"/>
<rect x="2013" y="311" width="7" height="1" fill="#d54b4f"/>
<rect x="2026" y="301" width="1" height="12" fill="#549a84"/>
<rect x="2023" y="303" width="7" height="8" fill="#549a84"/>
<rect x="2036" y="291" width="1" height="19" fill="#d54b4f"/>
<rect x="2033" y="294" width="7" height="11" fill="#d54b4f"/>
<rect x="2046" y="297" width="1" height="17" fill="#d54b4f"/>
<rect x="2043" y="304" width="7" height="8" fill="#d54b4f"/>
<rect x="2056" y="299" width="1" height="27" fill="#d54b4f"/>
<rect x="2053" y="311" width="7" height="4" fill="#d54b4f"/>
<rect x="2067" y="287" width="1" height="42" fill="#d54b4f"/>
<rect x="2064" y="299" width="7" height="25" fill="#d54b4f"/>
<rect x="2077" y="323" width="1" height="52" fill="#d54b4f"/>
<rect x="2074" y="329" width="7" height="37" fill="#d54b4f"/>
<rect x="2087" y="325" width="1" height="45" fill="#549a84"/>
<rect x="2084" y="330" width="7" height="39" fill="#549a84"/>
<rect x="2097" y="322" width="1" height="23" fill="#d54b4f"/>
<rect x="2094" y="325" width="7" height="18" fill="#d54b4f"/>
<rect x="2107" y="321" width="1" height="25" fill="#549a84"/>
<rect x="2104" y="324" width="7" height="20" fill="#549a84"/>
<rect x="2117" y="303" width="1" height="35" fill="#d54b4f"/>
<rect x="2114" y="324" width="7" height="3" fill="#d54b4f"/>
<rect x="2127" y="303" width="1" height="22" fill="#549a84"/>
<rect x="2124" y="308" width="7" height="17" fill="#549a84"/>
<rect x="2137" y="301" width="1" height="17" fill="#d54b4f"/>
<rect x="2134" y="304" width="7" height="10" fill="#d54b4f"/>
<rect x="2147" y="286" width="1" height="30" fill="#549a84"/>
<rect x="2144" y="287" width="7" height="28" fill="#549a84"/>
<rect x="2157" y="273" width="1" height="16" fill="#549a84"/>
<rect x="2154" y="279" width="7" height="9" fill="#549a84"/>
<rect x="2167" y="276" width="1" height="16" fill="#549a84"/>
<rect x="2164" y="278" width="7" height="3" fill="#549a84"/>
<rect x="2177" y="271" width="1" height="18" fill="#d54b4f"/>
<rect x="2174" y="279" width="7" height="7" fill="#d54b4f"/>
<rect x="2187" y="281" width="1" height="10" fill="#549a84"/>
<rect x="2184" y="286" width="7" height="1" fill="#549a84"/>
<rect x="2198" y="283" width="1" height="23" fill="#d54b4f"/>
<rect x="2195" y="287" width="7" height="14" fill="#d54b4f"/>
<rect x="2208" y="298" width="1" height="29" fill="#d54b4f"/>
<rect x="2205" y="300" width="7" height="9" fill="#d54b4f"/>
<rect x="2218" y="306" width="1" height="18" fill="#d54b4f"/>
<rect x="2215" y="307" width="7" height="11" fill="#d54b4f"/>
<rect x="2228" y="276" width="1" height="51" fill="#549a84"/>
<rect x="2225" y="281" width="7" height="36" fill="#549a84"/>
<rect x="2238" y="277" width="1" height="16" fill="#d54b4f"/>
<rect x="2235" y="277" width="7" height="16" fill="#d54b4f"/>
<rect x="2248" y="279" width="1" height="22" fill="#549a84"/>
<rect x="2245" y="281" width="7" height="10" fill="#549a84"/>
<rect x="2258" y="272" width="1" height="18" fill="#549a84"/>
<rect x="2255" y="276" width="7" height="5" fill="#549a84"/>
<rect x="2268" y="266" width="1" height="20" fill="#549a84"/>
<rect x="2265" y="268" width="7" height="13" fill="#549a84"/>
<rect x="2278" y="268" width="1" height="24" fill="#d54b4f"/>
<rect x="2275" y="268" width="7" height="18" fill="#d54b4f"/>
<rect x="2288" y="278" width="1" height="46" fill="#d54b4f"/>
<rect x="2285" y="283" width="7" height="21" fill="#d54b4f"/>
<rect x="2298" y="288" width="1" height="15" fill="#549a84"/>
<rect x="2295" y="291" width="7" height="4" fill="#549a84"/>
<rect x="2308" y="268" width="1" height="24" fill="#549a84"/>
<rect x="2305" y="270" width="7" height="21" fill="#549a84"/>
<rect x="2319" y="258" width="1" height="35" fill="#d54b4f"/>
<rect x="2316" y="268" width="7" height="11" fill="#d54b4f"/>
<rect x="2329" y="268" width="1" height="14" fill="#549a84"/>
<rect x="2326" y="272" width="7" height="10" fill="#549a84"/>
<rect x="2339" y="260" width="1" height="19" fill="#549a84"/>
<rect x="2336" y="266" width="7" height="6" fill="#549a84"/>
<rect x="2349" y="249" width="1" height="17" fill="#549a84"/>
<rect x="2346" y="259" width="7" height="4" fill="#549a84"/>
<rect x="2359" y="236" width="1" height="26" fill="#549a84"/>
<rect x="2356" y="239" width="7" height="23" fill="#549a84"/>
<rect x="2369" y="234" width="1" height="11" fill="#d54b4f"/>
<rect x="2366" y="237" width="7" height="4" fill="#d54b4f"/>
<rect x="2379" y="227" width="1" height="15" fill="#549a84"/>
<rect x="2376" y="228" width="7" height="13" fill="#549a84"/>
<rect x="2389" y="199" width="1" height="13" fill="#d54b4f"/>
<rect x="2386" y="208" width="7" height="3" fill="#d54b4f"/>
<rect x="2399" y="203" width="1" height="29" fill="#d54b4f"/>
<rect x="2396" y="209" width="7" height="5" fill="#d54b4f"/>
<rect x="2409" y="190" width="1" height="22" fill="#549a84"/>
<rect x="2406" y="200" width="7" height="12" fill="#549a84"/>
<rect x="2419" y="185" width="1" height="20" fill="#549a84"/>
<rect x="2416" y="189" width="7" height="9" fill="#549a84"/>
<rect x="2429" y="176" width="1" height="23" fill="#549a84"/>
<rect x="2426" y="177" width="7" height="15" fill="#549a84"/>
<rect x="2439" y="176" width="1" height="21" fill="#d54b4f"/>
<rect x="2436" y="178" width="7" height="15" fill="#d54b4f"/>
<rect x="2450" y="186" width="1" height="20" fill="#d54b4f"/>
<rect x="2447" y="191" width="7" height="10" fill="#d54b4f"/>
<rect x="2460" y="195" width="1" height="32" fill="#d54b4f"/>
<rect x="2457" y="198" width="7" height="16" fill="#d54b4f"/>
<rect x="2470" y="196" width="1" height="19" fill="#549a84"/>
<rect x="2467" y="199" width="7" height="14" fill="#549a84"/>
<rect x="2480" y="184" width="1" height="16" fill="#549a84"/>
<rect x="2477" y="192" width="7" height="8" fill="#549a84"/>
<rect x="2490" y="181" width="1" height="19" fill="#549a84"/>
<rect x="2487" y="183" width="7" height="12" fill="#549a84"/>
<rect x="2500" y="185" width="1" height="8" fill="#d54b4f"/>
<rect x="2497" y="188" width="7" height="5" fill="#d54b4f"/>
<line x1="0" y1="192.5" x2="2583" y2="192.5" stroke="#e04a50" stroke-width="1" stroke-dasharray="1 2"/>
<rect x="8.5" y="6" width="1187" height="39.5" fill="#1b1d26" fill-opacity="0.65"/>
<rect x="8.5" y="125" width="135.5" height="37" fill="#1b1d26" fill-opacity="0.65"/>
<rect x="8.5" y="166" width="2321.5" height="37" fill="#1b1d26" fill-opacity="0.65"/>
<rect x="8.5" y="206" width="243.5" height="36" fill="#1b1d26" fill-opacity="0.65"/>
<g transform="translate(514.4,1217.2)"><circle r="19.8" fill="#111"/><circle r="17.05" fill="#111" stroke="#7c52f8" stroke-width="3.1"/><g fill="none" stroke="#7c52f8" stroke-width="2.2" stroke-linecap="butt" stroke-linejoin="miter"><polyline points="-9.15,-6.65 -1.15,-0.2 11.2,-0.2"/><polyline points="4.95,-5.85 11.2,-0.2 4.95,5.8"/><line x1="-9.55" y1="7.65" x2="-4.45" y2="2.95"/></g></g>
<g transform="translate(1129.7,1217.2)"><circle r="19.8" fill="#111"/><circle r="17.05" fill="#111" stroke="#7c52f8" stroke-width="3.1"/><g fill="none" stroke="#7c52f8" stroke-width="2.2" stroke-linecap="butt" stroke-linejoin="miter"><polyline points="-9.15,-6.65 -1.15,-0.2 11.2,-0.2"/><polyline points="4.95,-5.85 11.2,-0.2 4.95,5.8"/><line x1="-9.55" y1="7.65" x2="-4.45" y2="2.95"/></g></g>
<g transform="translate(1754.5,1217.2)"><circle r="19.8" fill="#111"/><circle r="17.05" fill="#111" stroke="#7c52f8" stroke-width="3.1"/><g fill="none" stroke="#7c52f8" stroke-width="2.2" stroke-linecap="butt" stroke-linejoin="miter"><polyline points="-9.15,-6.65 -1.15,-0.2 11.2,-0.2"/><polyline points="4.95,-5.85 11.2,-0.2 4.95,5.8"/><line x1="-9.55" y1="7.65" x2="-4.45" y2="2.95"/></g></g>
<g transform="translate(2389.6,1217.2)"><circle r="19.8" fill="#111"/><circle r="17.05" fill="#111" stroke="#7c52f8" stroke-width="3.1"/><g fill="none" stroke="#7c52f8" stroke-width="2.2" stroke-linecap="butt" stroke-linejoin="miter"><polyline points="-9.15,-6.65 -1.15,-0.2 11.2,-0.2"/><polyline points="4.95,-5.85 11.2,-0.2 4.95,5.8"/><line x1="-9.55" y1="7.65" x2="-4.45" y2="2.95"/></g></g>
<g transform="translate(2500.5,1217.2)"><circle r="19.8" fill="#111"/><circle r="17.05" fill="#111" stroke="#a453d0" stroke-width="3.1"/><polygon fill="#a453d0" points="4.9,-9.0 6.3,-7.8 0.4,-0.6 8.2,-0.6 -4.5,9.8 -5.9,8.8 -0.4,1.8 -8.4,1.4"/></g>
<g clip-path="url(#pax)" font-size="22.3" fill="#b2b5be" stroke="#b2b5be" stroke-width="0.25"><text x="2597" y="88.1" textLength="83" lengthAdjust="spacingAndGlyphs">7,000.00</text><text x="2597" y="165.2" textLength="83" lengthAdjust="spacingAndGlyphs">6,800.00</text><text x="2597" y="242.2" textLength="83" lengthAdjust="spacingAndGlyphs">6,600.00</text><text x="2597" y="319.3" textLength="83" lengthAdjust="spacingAndGlyphs">6,400.00</text><text x="2597" y="396.4" textLength="83" lengthAdjust="spacingAndGlyphs">6,200.00</text><text x="2597" y="473.4" textLength="83" lengthAdjust="spacingAndGlyphs">6,000.00</text><text x="2597" y="550.5" textLength="83" lengthAdjust="spacingAndGlyphs">5,800.00</text><text x="2597" y="627.6" textLength="83" lengthAdjust="spacingAndGlyphs">5,600.00</text><text x="2597" y="704.7" textLength="83" lengthAdjust="spacingAndGlyphs">5,400.00</text><text x="2597" y="781.7" textLength="83" lengthAdjust="spacingAndGlyphs">5,200.00</text><text x="2597" y="858.8" textLength="83" lengthAdjust="spacingAndGlyphs">5,000.00</text><text x="2597" y="935.9" textLength="83" lengthAdjust="spacingAndGlyphs">4,800.00</text><text x="2597" y="1012.9" textLength="83" lengthAdjust="spacingAndGlyphs">4,600.00</text><text x="2597" y="1090.0" textLength="83" lengthAdjust="spacingAndGlyphs">4,400.00</text><text x="2597" y="1167.1" textLength="83" lengthAdjust="spacingAndGlyphs">4,200.00</text><text x="2597" y="1244.1" textLength="83" lengthAdjust="spacingAndGlyphs">4,000.00</text></g>
<g font-size="21.5" fill="#b2b5be"><text x="202.5" y="1272" text-anchor="middle" textLength="35.6" lengthAdjust="spacingAndGlyphs" stroke="#b2b5be" stroke-width="0.25">Nov</text><text x="403.5" y="1272" text-anchor="middle" textLength="35.6" lengthAdjust="spacingAndGlyphs" stroke="#b2b5be" stroke-width="0.25">Dec</text><text x="615.5" y="1272" text-anchor="middle" font-weight="bold" textLength="47.5" lengthAdjust="spacingAndGlyphs">2025</text><text x="827.5" y="1272" text-anchor="middle" textLength="34.5" lengthAdjust="spacingAndGlyphs" stroke="#b2b5be" stroke-width="0.25">Feb</text><text x="1018.5" y="1272" text-anchor="middle" textLength="34.4" lengthAdjust="spacingAndGlyphs" stroke="#b2b5be" stroke-width="0.25">Mar</text><text x="1230.5" y="1272" text-anchor="middle" textLength="31.1" lengthAdjust="spacingAndGlyphs" stroke="#b2b5be" stroke-width="0.25">Apr</text><text x="1442.5" y="1272" text-anchor="middle" textLength="37.8" lengthAdjust="spacingAndGlyphs" stroke="#b2b5be" stroke-width="0.25">May</text><text x="1653.5" y="1272" text-anchor="middle" textLength="32.2" lengthAdjust="spacingAndGlyphs" stroke="#b2b5be" stroke-width="0.25">Jun</text><text x="1855.5" y="1272" text-anchor="middle" textLength="25.6" lengthAdjust="spacingAndGlyphs" stroke="#b2b5be" stroke-width="0.25">Jul</text><text x="2077.5" y="1272" text-anchor="middle" textLength="35.6" lengthAdjust="spacingAndGlyphs" stroke="#b2b5be" stroke-width="0.25">Aug</text><text x="2288.5" y="1272" text-anchor="middle" textLength="35.6" lengthAdjust="spacingAndGlyphs" stroke="#b2b5be" stroke-width="0.25">Sep</text><text x="2500.5" y="1272" text-anchor="middle" textLength="31.1" lengthAdjust="spacingAndGlyphs" stroke="#b2b5be" stroke-width="0.25">Oct</text></g>
<path d="M2583,177 H2684 a4,4 0 0 1 4,4 V229 a4,4 0 0 1 -4,4 H2583 Z" fill="#d6474e"/>
<text x="2597" y="199" font-size="22" fill="#ffffff" textLength="83.5" lengthAdjust="spacingAndGlyphs" stroke="#ffffff" stroke-width="0.4">6,715.00</text>
<text x="2597" y="224.3" font-size="22" fill="#f1d3d5" textLength="83.5" lengthAdjust="spacingAndGlyphs" stroke="#f1d3d5" stroke-width="0.2">19:00:43</text>
<path d="M2583,1210 H2670 a4,4 0 0 1 4,4 V1239.5 H2583 Z" fill="#d45f55"/>
<text x="2598" y="1232.5" font-size="20.5" fill="#ffffff" textLength="68" lengthAdjust="spacingAndGlyphs" stroke="#ffffff" stroke-width="0.4">31.72 K</text>
<g transform="translate(2640,1265.6)" fill="none" stroke="#d8d8d8" stroke-width="1.7"><polygon points="-13,0 -6.5,-11.3 6.5,-11.3 13,0 6.5,11.3 -6.5,11.3"/><circle r="4"/></g>
<rect x="2589.5" y="5.5" width="101" height="43" rx="6.5" fill="#0e0e0e" stroke="#4a4a4c" stroke-width="1.2"/>
<text x="2595.6" y="35" font-size="21.5" fill="#f6f4f0" textLength="37.5" lengthAdjust="spacingAndGlyphs" stroke="#f6f4f0" stroke-width="0.3">USD</text>
<polyline points="2673.8,25.3 2678.2,29.6 2682.6,25.3" fill="none" stroke="#ececec" stroke-width="2"/>
<g><path d="M19.1,1186.1 H79 L65.5,1218.6 H29.5 V1202.4 H19.1 Z" fill="#111" stroke="#111" stroke-width="0.8" stroke-linejoin="round"/><g fill="#dedede"><path d="M21.9,1188.9 H43.1 V1215.6 H32.3 V1199.6 H21.9 Z"/><circle cx="51.6" cy="1194.4" r="5.1"/><path d="M62.4,1188.9 H74.8 L63.7,1215.6 H51.4 Z"/></g><text x="86.3" y="1215.8" font-weight="bold" font-size="38.5" fill="#dedede" stroke="#111" stroke-width="6.6" paint-order="stroke" stroke-linejoin="round" textLength="212.5" lengthAdjust="spacingAndGlyphs">TradingView</text></g>
<circle cx="31.9" cy="25.9" r="16" fill="#ad2a33"/>
<text x="31.8" y="31.2" text-anchor="middle" font-size="15" font-weight="bold" fill="#ffffff" textLength="25.5" lengthAdjust="spacingAndGlyphs">500</text>
<text x="53.54" y="35.4" font-size="28" fill="#c0c3cc" textLength="50.97" lengthAdjust="spacingAndGlyphs" stroke="#c0c3cc" stroke-width="0.3">S&amp;P</text>
<text x="112.03" y="35.4" font-size="28" fill="#c0c3cc" textLength="43.73" lengthAdjust="spacingAndGlyphs" stroke="#c0c3cc" stroke-width="0.3">500</text>
<text x="162.86" y="35.4" font-size="28" fill="#c0c3cc" textLength="81.01" lengthAdjust="spacingAndGlyphs" stroke="#c0c3cc" stroke-width="0.3">E-mini</text>
<text x="250.48" y="35.4" font-size="28" fill="#c0c3cc" textLength="96.03" lengthAdjust="spacingAndGlyphs" stroke="#c0c3cc" stroke-width="0.3">Futures</text>
<text x="366.94" y="35.4" font-size="28" fill="#c0c3cc" textLength="32.46" lengthAdjust="spacingAndGlyphs" stroke="#c0c3cc" stroke-width="0.3">1D</text>
<text x="419.44" y="35.4" font-size="28" fill="#c0c3cc" textLength="51.50" lengthAdjust="spacingAndGlyphs" stroke="#c0c3cc" stroke-width="0.3">CME</text>
<circle cx="356.3" cy="27" r="2.5" fill="#c0c3cc"/><circle cx="408.9" cy="27" r="2.5" fill="#c0c3cc"/>
<path d="M501,10 H520 V42 H501 a16,16 0 0 1 0,-32 Z" fill="#253035"/>
<path d="M520,10 H539 a16,16 0 0 1 0,32 H520 Z" fill="#421f35"/>
<circle cx="505.2" cy="26" r="7" fill="#589c86"/>
<g fill="none" stroke="#d43a6e" stroke-width="2.3" stroke-linecap="round"><path d="M528.8,24.4 C530,21.2 531.8,20.5 534,21.3 S538.3,24.6 540.4,23.9 S542.5,21.6 542.9,20.6"/><path d="M528.8,24.4 C530,21.2 531.8,20.5 534,21.3 S538.3,24.6 540.4,23.9 S542.5,21.6 542.9,20.6" transform="translate(0,6.9)"/></g>
<text x="568.74" y="34.1" font-size="22.5" fill="#c0c3cc" textLength="16.43" lengthAdjust="spacingAndGlyphs" stroke="#c0c3cc" stroke-width="0.3">O</text>
<text x="585.55" y="34.1" font-size="22.5" fill="#e0474f" textLength="89.63" lengthAdjust="spacingAndGlyphs" stroke="#e0474f" stroke-width="0.3">6,725.50</text>
<text x="684.20" y="34.1" font-size="22.5" fill="#c0c3cc" textLength="16.79" lengthAdjust="spacingAndGlyphs" stroke="#c0c3cc" stroke-width="0.3">H</text>
<text x="700.46" y="34.1" font-size="22.5" fill="#e0474f" textLength="89.12" lengthAdjust="spacingAndGlyphs" stroke="#e0474f" stroke-width="0.3">6,733.25</text>
<text x="799.63" y="34.1" font-size="22.5" fill="#c0c3cc" textLength="13.37" lengthAdjust="spacingAndGlyphs" stroke="#c0c3cc" stroke-width="0.3">L</text>
<text x="813.54" y="34.1" font-size="22.5" fill="#e0474f" textLength="88.52" lengthAdjust="spacingAndGlyphs" stroke="#e0474f" stroke-width="0.3">6,711.75</text>
<text x="912.57" y="34.1" font-size="22.5" fill="#c0c3cc" textLength="13.49" lengthAdjust="spacingAndGlyphs" stroke="#c0c3cc" stroke-width="0.3">C</text>
<text x="927.25" y="34.1" font-size="22.5" fill="#e0474f" textLength="89.63" lengthAdjust="spacingAndGlyphs" stroke="#e0474f" stroke-width="0.3">6,715.00</text>
<text x="1026.70" y="34.1" font-size="22.5" fill="#e0474f" textLength="67.90" lengthAdjust="spacingAndGlyphs" stroke="#e0474f" stroke-width="0.3">−23.75</text>
<text x="1102.28" y="34.1" font-size="22.5" fill="#e0474f" textLength="84.52" lengthAdjust="spacingAndGlyphs" stroke="#e0474f" stroke-width="0.3">(−0.35%)</text>
<rect x="15.5" y="54.5" width="125" height="59" rx="10" fill="#0e0e10" stroke="#d9484e" stroke-width="1.3"/>
<text x="78.4" y="78.8" text-anchor="middle" font-size="22" fill="#e5484d" textLength="89.5" lengthAdjust="spacingAndGlyphs" stroke="#e5484d" stroke-width="0.45">6,715.00</text>
<text x="78" y="102.9" text-anchor="middle" font-size="18.5" fill="#e5484d" textLength="42" lengthAdjust="spacingAndGlyphs" stroke="#e5484d" stroke-width="0.45">SELL</text>
<text x="172" y="89.4" text-anchor="middle" font-size="17.5" font-weight="bold" fill="#e6e6e6" textLength="35" lengthAdjust="spacingAndGlyphs">0.25</text>
<rect x="203.5" y="54.5" width="125" height="59" rx="10" fill="#0e0e10" stroke="#4d5ff0" stroke-width="1.3"/>
<text x="266.5" y="78.8" text-anchor="middle" font-size="22" fill="#5a6ff2" textLength="89" lengthAdjust="spacingAndGlyphs" stroke="#5a6ff2" stroke-width="0.45">6,715.25</text>
<text x="266" y="102.9" text-anchor="middle" font-size="18.5" fill="#5a6ff2" textLength="37" lengthAdjust="spacingAndGlyphs" stroke="#5a6ff2" stroke-width="0.45">BUY</text>
<text x="15" y="150" font-size="22" fill="#c0c3cc" textLength="31.5" lengthAdjust="spacingAndGlyphs">Vol</text>
<text x="60.5" y="150" font-size="22" fill="#e05a52" textLength="73.5" lengthAdjust="spacingAndGlyphs">31.72 K</text>
<g mask="url(#ictm)" font-size="22" fill="#5f5f62"><text x="15.5" y="191.4" textLength="112" lengthAdjust="spacingAndGlyphs">ICT Killzo...</text><text x="141.70" y="191.4" textLength="42.72" lengthAdjust="spacingAndGlyphs">3 30</text><text x="191.50" y="191.4" textLength="192.06" lengthAdjust="spacingAndGlyphs">America/New_York</text><text x="392.04" y="191.4" textLength="73.42" lengthAdjust="spacingAndGlyphs">Normal</text><text x="472.93" y="191.4" textLength="103.57" lengthAdjust="spacingAndGlyphs">1800-1801</text><text x="583.11" y="191.4" textLength="39.39" lengthAdjust="spacingAndGlyphs">Asia</text><text x="630.31" y="191.4" textLength="104.60" lengthAdjust="spacingAndGlyphs">2000-0000</text><text x="740.27" y="191.4" textLength="74.78" lengthAdjust="spacingAndGlyphs">London</text><text x="821.71" y="191.4" textLength="104.30" lengthAdjust="spacingAndGlyphs">0200-0500</text><text x="932.40" y="191.4" textLength="64.15" lengthAdjust="spacingAndGlyphs">NY AM</text><text x="1003.81" y="191.4" textLength="101.85" lengthAdjust="spacingAndGlyphs">0930-1100</text><text x="1111.95" y="191.4" textLength="96.07" lengthAdjust="spacingAndGlyphs">NY Lunch</text><text x="1213.81" y="191.4" textLength="104.29" lengthAdjust="spacingAndGlyphs">1200-1300</text><text x="1324.59" y="191.4" textLength="64.06" lengthAdjust="spacingAndGlyphs">NY PM</text><text x="1394.21" y="191.4" textLength="104.50" lengthAdjust="spacingAndGlyphs">1330-1600</text><text x="1505.73" y="191.4" textLength="53.60" lengthAdjust="spacingAndGlyphs">70 50</text><text x="1566.53" y="191.4" textLength="153.40" lengthAdjust="spacingAndGlyphs">Until Mitigated</text><text x="1724.60" y="191.4" textLength="123.39" lengthAdjust="spacingAndGlyphs">Most Recent</text><text x="1856.71" y="191.4" textLength="48.55" lengthAdjust="spacingAndGlyphs">AS.H</text><text x="1911.51" y="191.4" textLength="43.63" lengthAdjust="spacingAndGlyphs">AS.L</text><text x="1962.55" y="191.4" textLength="49.84" lengthAdjust="spacingAndGlyphs">LO.H</text><text x="2019.62" y="191.4" textLength="47.06" lengthAdjust="spacingAndGlyphs">LO.L</text><text x="2073.34" y="191.4" textLength="77.45" lengthAdjust="spacingAndGlyphs">NYAM.H</text><text x="2157.20" y="191.4" textLength="75.63" lengthAdjust="spacingAndGlyphs">NYAM.L</text><text x="2239.24" y="191.4" textLength="63.42" lengthAdjust="spacingAndGlyphs">NYL.H</text><text x="2307.10" y="191.4" textLength="30.56" lengthAdjust="spacingAndGlyphs">NY</text></g>
<text x="15.5" y="234" font-size="22.5" fill="#5f5f62" textLength="229.5" lengthAdjust="spacingAndGlyphs">Pivots Traditional Auto</text>
<g transform="translate(276,225.5)" fill="none" stroke-linecap="round"><path d="M-13.8,0 Q0,-19.6 13.8,0 Q0,19.6 -13.8,0 Z" stroke="#e6e6e6" stroke-width="1.6" stroke-linejoin="round"/><circle r="5.2" stroke="#e6e6e6" stroke-width="1.6"/><line x1="-11.5" y1="11.6" x2="11.2" y2="-11.2" stroke="#1b1d26" stroke-width="5.5"/><line x1="-9.9" y1="10" x2="9.6" y2="-9.6" stroke="#e6e6e6" stroke-width="1.7"/></g>
<g transform="translate(2352.8,183.3)" fill="none" stroke-linecap="round"><path d="M-13.8,0 Q0,-19.6 13.8,0 Q0,19.6 -13.8,0 Z" stroke="#e6e6e6" stroke-width="1.6" stroke-linejoin="round"/><circle r="5.2" stroke="#e6e6e6" stroke-width="1.6"/><line x1="-11.5" y1="11.6" x2="11.2" y2="-11.2" stroke="#1b1d26" stroke-width="5.5"/><line x1="-9.9" y1="10" x2="9.6" y2="-9.6" stroke="#e6e6e6" stroke-width="1.7"/></g>
<rect x="15.5" y="252.5" width="48" height="34" rx="5" fill="#1d1c24" stroke="#3a3b42" stroke-width="1"/>
<polyline points="31.8,272.8 39.2,265.6 46.6,272.8" fill="none" stroke="#ececec" stroke-width="2.2"/>
<rect x="0" y="0" width="1" height="1282" fill="#2f2e2a"/>
</svg>
</body></html>
